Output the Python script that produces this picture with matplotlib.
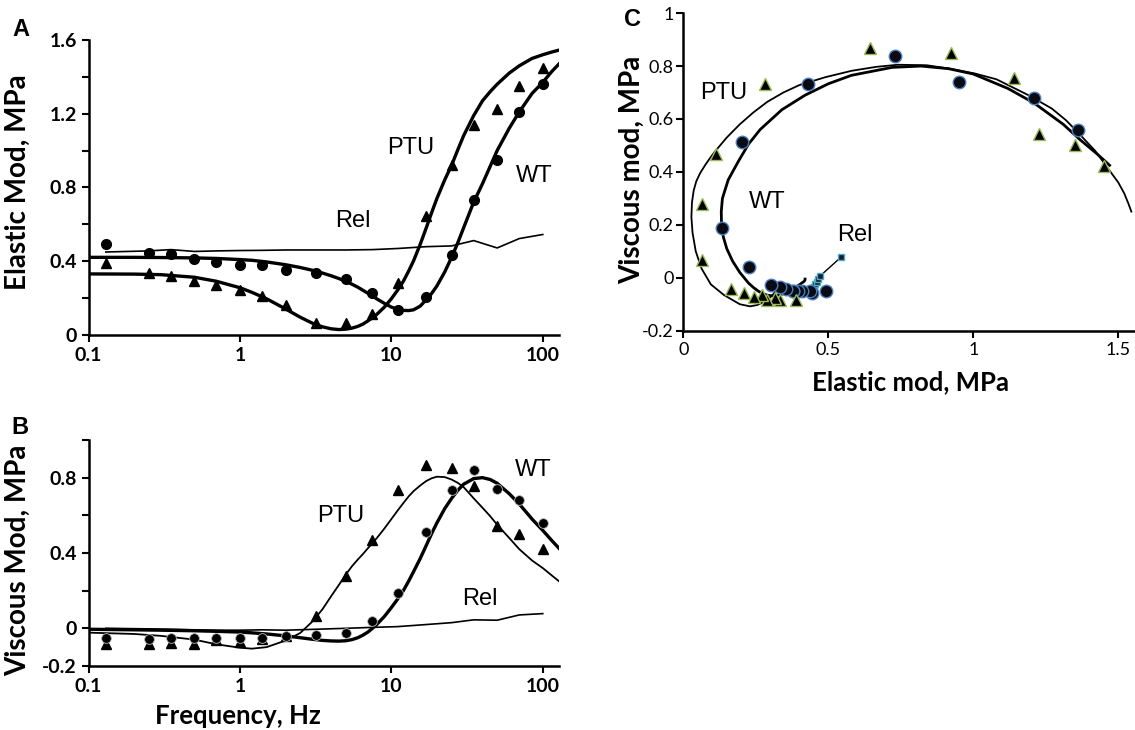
import matplotlib
matplotlib.use("Agg")
import matplotlib.pyplot as plt
from matplotlib.ticker import FixedLocator, FixedFormatter, NullLocator

# measured points (Hz)
freq = [0.13, 0.25, 0.35, 0.5, 0.7, 1.0, 1.4, 2.0, 3.2, 5.0, 7.5, 11, 17, 25, 35, 50, 70, 100]
wt_elastic = [0.493, 0.444, 0.438, 0.411, 0.395, 0.38, 0.377, 0.353, 0.335, 0.303, 0.227, 0.132,
              0.203, 0.431, 0.73, 0.951, 1.21, 1.36]
ptu_elastic = [0.39, 0.335, 0.317, 0.29, 0.272, 0.245, 0.208, 0.163, 0.063, 0.063, 0.114, 0.281,
               0.643, 0.924, 1.14, 1.228, 1.35, 1.45]
rel_elastic = [0.449, 0.455, 0.462, 0.452, 0.455, 0.457, 0.458, 0.46, 0.46, 0.46, 0.462, 0.468,
               0.478, 0.482, 0.511, 0.471, 0.522, 0.544]
wt_viscous = [-0.05, -0.059, -0.05, -0.05, -0.05, -0.05, -0.05, -0.042, -0.036, -0.027, 0.039, 0.187,
              0.512, 0.734, 0.838, 0.738, 0.681, 0.56]
ptu_viscous = [-0.085, -0.085, -0.078, -0.085, -0.064, -0.071, -0.059, -0.042, 0.066, 0.28, 0.467, 0.734,
               0.868, 0.85, 0.756, 0.544, 0.5, 0.422]
rel_viscous = [0.0, -0.003, -0.005, -0.008, -0.01, -0.01, -0.008, -0.01, -0.005, 0.0, 0.005, 0.009,
               0.02, 0.03, 0.045, 0.043, 0.071, 0.078]

# model fits
fit_freq = [0.1, 0.2, 0.3, 0.5, 0.7, 1.0, 1.2, 1.5, 2.0, 2.5, 3.0, 3.5, 4.0, 4.5, 5.0, 5.5, 6.0, 6.5,
            7.0, 7.5, 8.0, 9.0, 10, 11, 12, 13, 14, 15.5, 17, 18.5, 20, 22.5, 25, 27.5, 30, 35, 40,
            45, 50, 60, 70, 85, 100, 115, 128]
wt_elastic_fit = [0.42, 0.42, 0.419, 0.417, 0.414, 0.408, 0.404, 0.395, 0.38, 0.365, 0.35, 0.335,
                  0.32, 0.305, 0.29, 0.274, 0.258, 0.241, 0.225, 0.21, 0.195, 0.17, 0.15, 0.138,
                  0.132, 0.131, 0.135, 0.155, 0.19, 0.225, 0.265, 0.34, 0.42, 0.5, 0.58, 0.72,
                  0.82, 0.915, 1.0, 1.12, 1.21, 1.31, 1.37, 1.43, 1.47]
wt_viscous_fit = [-0.005, -0.008, -0.01, -0.013, -0.016, -0.02, -0.024, -0.03, -0.04, -0.05, -0.058,
                  -0.064, -0.067, -0.068, -0.066, -0.06, -0.05, -0.036, -0.02, 0.0, 0.02, 0.063,
                  0.11, 0.155, 0.2, 0.25, 0.3, 0.37, 0.44, 0.505, 0.56, 0.635, 0.69, 0.733, 0.765,
                  0.795, 0.8, 0.79, 0.77, 0.715, 0.66, 0.58, 0.52, 0.465, 0.425]
ptu_elastic_fit = [0.33, 0.329, 0.326, 0.312, 0.29, 0.255, 0.23, 0.195, 0.14, 0.095, 0.063, 0.043,
                   0.032, 0.028, 0.03, 0.036, 0.045, 0.058, 0.075, 0.092, 0.11, 0.15, 0.195, 0.242,
                   0.29, 0.345, 0.4, 0.49, 0.58, 0.665, 0.74, 0.84, 0.92, 1.005, 1.08, 1.19, 1.27,
                   1.32, 1.36, 1.42, 1.46, 1.5, 1.52, 1.535, 1.545]
ptu_viscous_fit = [-0.023, -0.03, -0.04, -0.06, -0.085, -0.103, -0.108, -0.1, -0.065, -0.025, 0.035,
                   0.1, 0.17, 0.23, 0.285, 0.33, 0.365, 0.395, 0.425, 0.452, 0.478, 0.53, 0.58,
                   0.625, 0.665, 0.7, 0.728, 0.758, 0.782, 0.797, 0.805, 0.803, 0.79, 0.772, 0.75,
                   0.69, 0.64, 0.595, 0.55, 0.48, 0.42, 0.36, 0.32, 0.28, 0.25]

# relaxed points in panel C
rel_c_elastic = [0.44, 0.445, 0.45, 0.452, 0.455, 0.46, 0.465, 0.471, 0.544]
rel_c_viscous = [-0.055, -0.05, -0.045, -0.035, -0.025, -0.015, -0.005, 0.006, 0.078]

lab_font = 'Lato'
txt_font = 'Liberation Sans'

fig = plt.figure(figsize=(11.35, 7.3), dpi=100)


def style(ax, bold=True, size=14):
    for s in ['top', 'right']:
        ax.spines[s].set_visible(False)
    for s in ['left', 'bottom']:
        ax.spines[s].set_linewidth(1.8)
    ax.tick_params(which='both', direction='out', length=5, width=1.5, labelsize=size)
    for t in ax.get_xticklabels() + ax.get_yticklabels():
        t.set_fontfamily(lab_font)
        t.set_fontweight('bold' if bold else 'normal')


def log_freq_axis(ax):
    ax.set_xscale('log')
    ax.set_xlim(0.1, 128)
    ax.xaxis.set_major_locator(FixedLocator([0.1, 1, 10, 100]))
    ax.xaxis.set_major_formatter(FixedFormatter(['0.1', '1', '10', '100']))
    ax.xaxis.set_minor_locator(NullLocator())


# A: elastic modulus
axA = fig.add_axes([0.078, 0.5415, 0.4145, 0.4037])
log_freq_axis(axA)
axA.set_ylim(0, 1.6)
axA.yaxis.set_major_locator(FixedLocator([0, 0.4, 0.8, 1.2, 1.6]))
axA.yaxis.set_major_formatter(FixedFormatter(['0', '0.4', '0.8', '1.2', '1.6']))
axA.yaxis.set_minor_locator(FixedLocator([0.2, 0.6, 1.0, 1.4]))
axA.plot(fit_freq, wt_elastic_fit, color='black', lw=2.4)
axA.plot(fit_freq, ptu_elastic_fit, color='black', lw=2.4)
axA.plot(freq, rel_elastic, color='black', lw=1.2)
axA.plot(freq, wt_elastic, 'o', color='black', ms=7)
axA.plot(freq, ptu_elastic, '^', color='black', ms=7)
axA.text(13.4, 1.015, 'PTU', fontsize=17, family=txt_font, ha='center', va='center')
axA.text(88, 0.86, 'WT', fontsize=17, family=txt_font, ha='center', va='center')
axA.text(5.6, 0.62, 'Rel', fontsize=17, family=txt_font, ha='center', va='center')
style(axA)

# B: viscous modulus
axB = fig.add_axes([0.078, 0.0877, 0.4145, 0.3096])
log_freq_axis(axB)
axB.set_ylim(-0.2, 1.0)
axB.yaxis.set_major_locator(FixedLocator([-0.2, 0, 0.4, 0.8]))
axB.yaxis.set_major_formatter(FixedFormatter(['-0.2', '0', '0.4', '0.8']))
axB.yaxis.set_minor_locator(FixedLocator([0.2, 0.6, 1.0]))
axB.plot(fit_freq, wt_viscous_fit, color='black', lw=2.4)
axB.plot(fit_freq, ptu_viscous_fit, color='black', lw=1.3)
axB.plot(freq, rel_viscous, color='black', lw=1.2)
axB.plot(freq, ptu_viscous, '^', color='black', ms=7)
axB.plot(freq, wt_viscous, 'o', color='black', ms=7, mec='#bbbbbb', mew=0.6)
axB.text(4.6, 0.595, 'PTU', fontsize=17, family=txt_font, ha='center', va='center')
axB.text(86, 0.838, 'WT', fontsize=17, family=txt_font, ha='center', va='center')
axB.text(38.6, 0.155, 'Rel', fontsize=17, family=txt_font, ha='center', va='center')
style(axB)

# C: viscous vs elastic
axC = fig.add_axes([0.602, 0.547, 0.398, 0.435])
axC.set_xlim(0, 1.5576)
axC.set_ylim(-0.2, 1.0)
axC.xaxis.set_major_locator(FixedLocator([0, 0.5, 1, 1.5]))
axC.xaxis.set_major_formatter(FixedFormatter(['0', '0.5', '1', '1.5']))
axC.yaxis.set_major_locator(FixedLocator([-0.2, 0, 0.2, 0.4, 0.6, 0.8, 1.0]))
axC.yaxis.set_major_formatter(FixedFormatter(['-0.2', '0', '0.2', '0.4', '0.6', '0.8', '1']))
axC.plot(ptu_elastic_fit, ptu_viscous_fit, color='black', lw=1.3)
axC.plot(wt_elastic_fit, wt_viscous_fit, color='black', lw=2.0)
axC.plot(rel_c_elastic, rel_c_viscous, color='black', lw=1.0, marker='s', ms=5,
         mfc='#1a1a33', mec='#4bacc6', mew=1.0)
axC.plot(wt_elastic, wt_viscous, 'o', ms=9, mfc='#0a0a14', mec='#4a7ebb', mew=1.0)
axC.plot(ptu_elastic, ptu_viscous, '^', ms=9, mfc='black', mec='#9bbb59', mew=1.0)
axC.text(0.141, 0.697, 'PTU', fontsize=17, family=txt_font, ha='center', va='center')
axC.text(0.288, 0.287, 'WT', fontsize=17, family=txt_font, ha='center', va='center')
axC.text(0.592, 0.16, 'Rel', fontsize=17, family=txt_font, ha='center', va='center')
style(axC, bold=False, size=13)
axC.tick_params(axis='y', pad=2)

# labels
fig.text(0.016, 0.75, 'Elastic Mod, MPa', rotation=90, ha='center', va='center',
         fontsize=20, fontweight='bold', family=lab_font)
fig.text(0.016, 0.233, 'Viscous Mod, MPa', rotation=90, ha='center', va='center',
         fontsize=20, fontweight='bold', family=lab_font)
fig.text(0.21, 0.019, 'Frequency, Hz', ha='center', va='center',
         fontsize=18.5, fontweight='bold', family=lab_font)
fig.text(0.557, 0.767, 'Viscous mod, MPa', rotation=90, ha='center', va='center',
         fontsize=20, fontweight='bold', family=lab_font)
fig.text(0.802, 0.477, 'Elastic mod, MPa', ha='center', va='center',
         fontsize=18.5, fontweight='bold', family=lab_font)
fig.text(0.018, 0.959, 'A', ha='center', va='center', fontsize=17, fontweight='bold', family='Liberation Sans')
fig.text(0.018, 0.414, 'B', ha='center', va='center', fontsize=17, fontweight='bold', family='Liberation Sans')
fig.text(0.557, 0.973, 'C', ha='center', va='center', fontsize=17, fontweight='bold', family='Liberation Sans')

fig.savefig('out.png', dpi=100)
